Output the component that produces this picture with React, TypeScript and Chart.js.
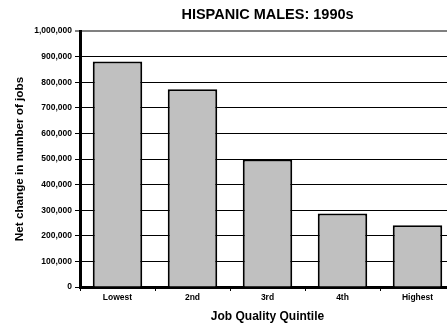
import React, { useEffect, useRef } from "react";
import { Chart, registerables } from "chart.js";

Chart.register(...registerables);

// Net change in number of jobs by job quality quintile, Hispanic males, 1990s
const chartTitle = "HISPANIC MALES: 1990s";
const quintiles = ["Lowest", "2nd", "3rd", "4th", "Highest"];
const netJobChange = [881000, 772000, 498000, 287000, 241000];
const yMin = 0;
const yMax = 1000000;
const yStep = 100000;
const yAxisTitle = "Net change in number of jobs";
const xAxisTitle = "Job Quality Quintile";

const FONT = "'Liberation Sans', Arial, Helvetica, sans-serif";

// Title centred over the plot area rather than the whole canvas
const plotTitle = {
  id: "plotTitle",
  afterDraw(chart: any) {
    const { ctx, chartArea } = chart;
    ctx.save();
    ctx.fillStyle = "#000";
    ctx.font = `bold 14.5px ${FONT}`;
    ctx.textAlign = "center";
    ctx.textBaseline = "middle";
    ctx.fillText(chartTitle, (chartArea.left + chartArea.right) / 2, 15);
    ctx.restore();
  },
};

export default function App() {
  const canvasRef = useRef<HTMLCanvasElement | null>(null);

  useEffect(() => {
    const canvas = canvasRef.current;
    if (!canvas) return;
    Chart.defaults.color = "#000";
    Chart.defaults.font.family = FONT;

    const chart = new Chart(canvas, {
      type: "bar",
      data: {
        labels: quintiles,
        datasets: [
          {
            data: netJobChange,
            backgroundColor: "#c0c0c0",
            borderColor: "#000",
            borderWidth: 2,
            categoryPercentage: 1,
            barPercentage: 0.66,
          },
        ],
      },
      plugins: [plotTitle],
      options: {
        responsive: false,
        animation: false,
        layout: { padding: { top: 31, left: 0, right: 0, bottom: 0 } },
        plugins: {
          legend: { display: false },
          tooltip: { enabled: false },
          title: { display: false },
        },
        scales: {
          x: {
            offset: true,
            afterFit: (scale: any) => {
              scale.height = 41;
            },
            grid: {
              offset: true,
              drawOnChartArea: false,
              drawTicks: true,
              tickLength: 4,
              color: "#000",
            },
            border: { display: true, color: "#000", width: 3 },
            ticks: {
              color: "#000",
              padding: 2,
              maxRotation: 0,
              font: { family: FONT, size: 8.5, weight: "bold" },
            },
            title: {
              display: true,
              text: xAxisTitle,
              color: "#000",
              font: { family: FONT, size: 12, weight: "bold" },
              padding: { top: 0, bottom: 4 },
            },
          },
          y: {
            min: yMin,
            max: yMax,
            afterFit: (scale: any) => {
              scale.width = 80;
            },
            grid: {
              color: (ctx: any) =>
                ctx.tick && ctx.tick.value === yMax ? "#808080" : "#000",
              lineWidth: (ctx: any) =>
                ctx.tick && ctx.tick.value === yMax ? 2 : 1,
              tickColor: "#000",
              tickWidth: 1,
              tickLength: 5,
            },
            border: { display: true, color: "#000", width: 3 },
            ticks: {
              stepSize: yStep,
              color: "#000",
              padding: 3,
              font: { family: FONT, size: 8.5, weight: "bold" },
              callback: (v: any) => Number(v).toLocaleString("en-US"),
            },
            title: {
              display: true,
              text: yAxisTitle,
              color: "#000",
              font: { family: FONT, size: 11.7, weight: "bold" },
              padding: { top: 12.5, bottom: 0 },
            },
          },
        },
      },
    });

    return () => chart.destroy();
  }, []);

  return (
    <div
      style={{
        position: "fixed",
        left: 0,
        top: 0,
        width: 447,
        height: 328,
        overflow: "hidden",
        background: "#fff",
      }}
    >
      <canvas
        ref={canvasRef}
        width={455}
        height={328}
        style={{ display: "block", width: 455, height: 328 }}
      />
    </div>
  );
}
